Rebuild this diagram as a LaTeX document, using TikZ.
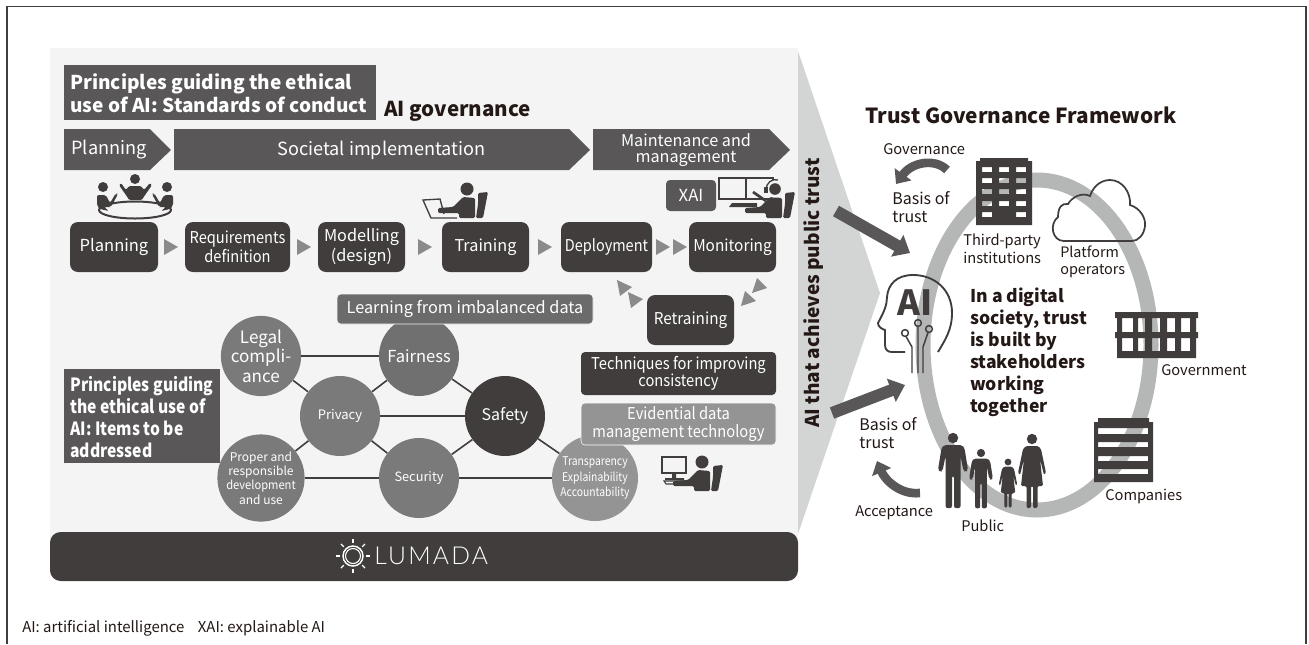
\documentclass[tikz,border=0pt]{standalone}
\usepackage{fontspec}
\setmainfont{Noto Sans CJK JP}
\newfontfamily\lumadafont[LetterSpace=9]{Lato Light}
\usetikzlibrary{arrows.meta}
\definecolor{inkdark}{HTML}{403D3C}
\definecolor{inktext}{HTML}{231815}
\definecolor{panelgray}{HTML}{F4F4F4}
\definecolor{headgray}{HTML}{595757}
\definecolor{ringgray}{HTML}{B5B6B6}
\definecolor{wedgegray}{HTML}{D3D5D4}
\definecolor{trigray}{HTML}{8A8A8A}
\def\u{.75pt}
\newcommand\narrowed[2]{\scalebox{#1}[1]{#2}}
\tikzset{
  stepbox/.style={fill=inkdark,rounded corners=6pt,text=white,inner sep=0pt,align=center,font=\fontsize{12.2}{14.4}\selectfont,minimum height=50*\u},
  tagbox/.style={rounded corners=3pt,text=white,inner sep=0pt,align=center,font=\fontsize{12.2}{13}\selectfont},
  headtext/.style={text=white,inner sep=0pt,align=left,font=\bfseries\fontsize{14.3}{17.2}\selectfont},
  phase/.style={text=white,inner sep=0pt,align=center,font=\fontsize{13.6}{15}\selectfont},
  item/.style={circle,text=white,inner sep=0pt,minimum size=80*\u,align=center,font=\fontsize{12.4}{14.6}\selectfont},
  link/.style={draw=inkdark,line width=1.2pt},
  label/.style={text=inktext,inner sep=0pt,align=left,font=\fontsize{12}{14}\selectfont},
  bigarrow/.style={draw=headgray,line width=9pt,-{Triangle[length=11pt,width=18pt]}},
  bentarrow/.style={draw=headgray,line width=6.5pt,-{Triangle[length=9pt,width=15pt]}},
  seated/.pic={
    \fill[inkdark] (0,0) circle (6.5);
    \fill[inkdark,rounded corners=1pt] (-4,8)--(8,9)--(8,29)--(-8,29)--(-8,24)--(-29,24)--(-29,19)--(-14,18)--cycle;
    \fill[inkdark,rounded corners=1pt] (11,4)--(21,3)--(16,29)--(9,29)--(11,15)--cycle;
  },
  manshape/.pic={
    \fill[inkdark] (0,0) circle (5.2);
    \fill[inkdark,rounded corners=1.5pt] (-9,7)--(9,7)--(11.5,10)--(15,32)--(13,34)--(10.5,33)--(7.5,18)--(7.5,70)--(1,70)--(1,38)--(-1,38)--(-1,70)--(-7.5,70)--(-7.5,18)--(-10.5,33)--(-13,34)--(-15,32)--(-11.5,10)--cycle;
  },
  dressshape/.pic={
    \fill[inkdark] (0,0) circle (5.2);
    \fill[inkdark,rounded corners=1pt] (-6,7)--(6,7)--(9,10)--(14,34)--(12,36)--(8,20)--(11,47)--(5.5,47)--(5.5,69)--(1,69)--(1,47)--(-1,47)--(-1,69)--(-5.5,69)--(-5.5,47)--(-11,47)--(-8,20)--(-12,36)--(-14,34)--(-9,10)--cycle;
  },
}
\begin{document}
\begin{tikzpicture}[x=\u,y=-\u]
\useasboundingbox (0,0) rectangle (1309,644);
% frame, open at the bottom
\draw[inkdark,line width=1pt] (7,644)--(7,6.5)--(1306,6.5)--(1306,644);
\node[label,anchor=west,font=\fontsize{11.2}{13}\selectfont] (note) at (22,628) {AI: artificial intelligence\hspace{.9em}XAI: explainable AI};
% panel and wedge
\fill[wedgegray] (797,48)--(880,293)--(797,537)--cycle;
\fill[panelgray] (50,48) rectangle (798,540);
\fill[inkdark,rounded corners=8pt] (50,532) rectangle (798,581);
% lumada
\node[text=white,anchor=west,inner sep=0pt,font=\lumadafont\fontsize{18.5}{20}\selectfont] (lumada) at (374,556) {LUMADA};
\draw[white,line width=1.1pt] (353,556) circle (10);
\draw[white,line width=.8pt] (353,556) circle (7.5);
\foreach \a in {0,45,...,315}
  \draw[white,line width=1pt] (353,556)++(\a:13) -- ++(\a:4);
% headings
\fill[headgray] (64,65) rectangle (376,120);
\fill[headgray] (64,369) rectangle (220,463);
\node[headtext,anchor=west] (stdhead) at (70,93.5) {Principles guiding the ethical\\use of AI: Standards of conduct};
\node[label,anchor=west,font=\bfseries\fontsize{15.4}{18}\selectfont] (govhead) at (384,111) {AI governance};
\node[headtext,anchor=west,font=\bfseries\fontsize{13.65}{16.6}\selectfont] (itemhead) at (70,417) {\narrowed{.86}{Principles guiding}\\\narrowed{.86}{the ethical use of}\\\narrowed{.86}{AI: Items to be}\\\narrowed{.86}{addressed}};
% phase arrows
\fill[headgray] (64,129)--(150,129)--(171,150)--(150,170)--(64,170)--cycle;
\fill[headgray] (174,129)--(569,129)--(590,150)--(569,170)--(174,170)--cycle;
\fill[headgray] (593,129)--(769,129)--(790,150)--(769,170)--(593,170)--cycle;
\node[phase] (ph1) at (109,150) {Planning};
\node[phase] (ph2) at (381.5,150) {Societal implementation};
\node[phase,font=\fontsize{12.15}{12}\selectfont] (ph3) at (686,150) {Maintenance and\\management};
% process steps
\node[stepbox,minimum width=88*\u,font=\fontsize{12.4}{14}\selectfont] (plan) at (114,247) {Planning};
\node[stepbox,minimum width=105*\u] (req) at (237.5,247) {\narrowed{.9}{Requirements}\\\narrowed{.9}{definition}};
\node[stepbox,minimum width=87*\u] (model) at (361.5,247) {Modelling\\(design)};
\node[stepbox,minimum width=87*\u] (train) at (485.5,247) {Training};
\node[stepbox,minimum width=91*\u] (deploy) at (606.5,247) {\narrowed{.89}{Deployment}};
\node[stepbox,minimum width=87*\u] (monitor) at (732.5,247) {\narrowed{.945}{Monitoring}};
\node[stepbox,minimum width=87*\u] (retrain) at (690.5,320) {\narrowed{.94}{Retraining}};
\node[tagbox,fill=headgray,minimum width=50*\u,minimum height=31*\u,font=\fontsize{12.5}{14}\selectfont] (xai) at (691,195.5) {XAI};
\foreach \x in {164,297,418,538,656,673}
  \fill[trigray] (\x,239)--(\x+14,247)--(\x,255)--cycle;
\fill[trigray] (617,280)--(632,287)--(620,296)--cycle;
\fill[trigray] (628,292)--(643,299)--(631,308)--cycle;
\fill[trigray] (757,278)--(767,288)--(752,293)--cycle;
\fill[trigray] (745,291)--(756,301)--(741,306)--cycle;
% principle circles
\node[item,fill=black!56] (fair) at (419,356) {Fairness};
\node[item,fill=black!52,font=\fontsize{12.8}{14.6}\selectfont] (legal) at (261,356) {Legal\\compli-\\ance};
\node[item,fill=black!52,font=\fontsize{9.8}{12}\selectfont] (privacy) at (340,416) {Privacy};
\node[item,fill=black!52,font=\fontsize{9}{10.8}\selectfont] (proper) at (261,478) {Proper and\\responsible\\\narrowed{.93}{development}\\and use};
\node[item,fill=black!52,font=\fontsize{9.6}{12}\selectfont] (secur) at (419,478) {Security};
\node[item,fill=inkdark,font=\fontsize{12}{14}\selectfont] (safety) at (505,416) {Safety};
\node[item,fill=black!42,minimum size=86*\u,font=\fontsize{9}{11.6}\selectfont] (transp) at (595,478) {\narrowed{.865}{Transparency}\\\narrowed{.865}{Explainability}\\\narrowed{.865}{Accountability}};
\draw[link] (legal)--(fair);
\draw[link] (legal)--(privacy);
\draw[link] (proper)--(privacy);
\draw[link] (proper)--(secur);
\draw[link] (fair)--(privacy);
\draw[link] (privacy)--(safety);
\draw[link] (privacy)--(secur);
\draw[link] (fair)--(safety);
\draw[link] (secur)--(safety);
\draw[link] (secur)--(transp);
\draw[link] (safety)--(transp);
% technique boxes
\node[tagbox,fill=black!58,draw=panelgray,minimum width=256*\u,minimum height=30*\u] (learn) at (465,309) {Learning from imbalanced data};
\node[tagbox,fill=inkdark,minimum width=195*\u,minimum height=43*\u,font=\fontsize{12.2}{12.9}\selectfont] (tech) at (678.5,373.5) {\narrowed{.905}{Techniques for improving}\\\narrowed{.905}{consistency}};
\node[tagbox,fill=black!42,draw=white,minimum width=195*\u,minimum height=42*\u,font=\fontsize{12.2}{13.5}\selectfont] (evid) at (678.5,424) {\narrowed{.905}{Evidential data}\\\narrowed{.905}{management technology}};
% meeting icon
\draw[inkdark,line width=1.5pt] (135,210) ellipse (36 and 8.5);
\fill[inkdark] (103,187) circle (5) (135,179) circle (5) (167,187) circle (5);
\fill[inkdark,rounded corners=1pt] (126,190)--(129,186)--(141,186)--(144,190)--(150,183)--(152,185)--(143,198)--(142,200)--(129,200)--(128,198)--(119,185)--(121,183)--cycle;
\fill[inkdark,rounded corners=1.5pt] (97,195)--(106,195)--(110,203)--(116,193)--(118,194)--(111,207)--(109,207)--(104,207)--(109,211)--(100,209)--(97,206)--cycle;
\fill[inkdark,rounded corners=1.5pt] (173,195)--(164,195)--(160,203)--(154,193)--(152,194)--(159,207)--(161,207)--(166,207)--(161,211)--(170,209)--(173,206)--cycle;
% training icon
\pic at (467,189) {seated};
\draw[inkdark,line width=1pt] (457,218)--(431,218)--(423,200)--(440,199)--(444,214);
% monitoring icon
\pic at (774,189) {seated};
\draw[inkdark,line width=1.4pt] (719,178) rectangle (773,199) (746,178)--(746,199);
\fill[panelgray] (774,189) circle (8.6);
\fill[inkdark] (775,189) circle (5.8);
\draw[inkdark,line width=1pt] (778,180) .. controls (772,178) and (766,183) .. (766,190);
\fill[inkdark] (764,187) rectangle (768,193);
\fill[inkdark] (732,203)--(757,203)--(757,207)--(729,207)--cycle;
\draw[inkdark,line width=2pt] (753,192)--(766,201);
% evidence icon
\pic at (702,462) {seated};
\draw[inkdark,line width=1pt] (662,457) rectangle (686,473);
\fill[inkdark] (672,473) rectangle (676,478) (665,478) rectangle (684,480);
\draw[inkdark,line width=.8pt] (664,481)--(686,481)--(684,484)--(666,484)--cycle;
% side label of the wedge
\node[rotate=90,text=inktext,inner sep=0pt,font=\bfseries\fontsize{14.3}{16}\selectfont] (public) at (814,293) {AI that achieves public trust};
% framework
\node[label,anchor=west,font=\bfseries\fontsize{15.6}{18}\selectfont] (frame) at (865,115) {Trust Governance Framework};
\draw[ringgray,line width=15*\u] (1037,345) ellipse (114 and 165);
\fill[inkdark,even odd rule] (976,225)--(976,161)--(980,161)--(980,158)--(1028,158)--(1028,161)--(1032,161)--(1032,225)--cycle
  \foreach \y in {167,178,189,201} {(982,\y) rectangle ++(10,5) (999,\y) rectangle ++(10,5) (1016,\y) rectangle ++(10,5)}
  (982,212) rectangle ++(10,5) (1016,212) rectangle ++(10,5);
\draw[inkdark,line width=1.3pt] (1064,241) .. controls (1052,241) and (1049,224) .. (1058,217) .. controls (1058,207) and (1062,203) .. (1068,204) .. controls (1072,197) and (1082,192) .. (1090,196) .. controls (1094,184) and (1103,180) .. (1110,180) .. controls (1122,180) and (1131,192) .. (1130,205) .. controls (1140,208) and (1146,218) .. (1145,226) .. controls (1144,235) and (1138,241) .. (1132,241) -- cycle;
\fill[inkdark,even odd rule] (1115,312) rectangle (1198,318) (1117,318) rectangle (1196,332) (1115,332) rectangle (1198,338) (1117,338) rectangle (1196,358)
  \foreach \a/\b in {1122/1133,1138/1145,1152/1160,1167/1175,1181/1190} {(\a,318) rectangle (\b,332) (\a,338) rectangle (\b,351)};
\fill[inkdark,even odd rule] (1098,418) rectangle (1149,422) (1094,422) rectangle (1153,482)
  (1098,428) rectangle (1148,434) (1098,442) rectangle (1148,447) (1098,456) rectangle (1148,461) (1098,469) rectangle (1148,474);
\pic at (953,438) {manshape};
\pic[scale=.79] at (981,453) {manshape};
\pic[scale=.66] at (1008,462) {dressshape};
\pic at (1032,439) {dressshape};
% AI head
\draw[inkdark,line width=1.4pt] (938,352) .. controls (945,340) and (952,330) .. (952,313) .. controls (952,290) and (935,275) .. (913,275) .. controls (897,275) and (888,284) .. (887,297) .. controls (887,305) and (884,312) .. (878,323) .. controls (878,327) and (882,329) .. (885,330) -- (885,345) .. controls (885,350) and (888,352) .. (892,352) -- (905,352);
\node[inner sep=0pt,text=inkdark,font=\bfseries\fontsize{26}{26}\selectfont] (aitext) at (915,303) {AI};
\draw[inkdark,line width=1.1pt] (918,323) circle (3.4) (905,333) circle (3.4) (929,329) circle (3.4);
\draw[inkdark,line width=1.1pt] (918,326.5)--(918,373) (906,336.5)--(912,347)--(912,373) (928,332.5)--(923,347)--(923,373);
% arrows
\coordinate (upstart) at (836,211);
\coordinate (uptip) at (910,253);
\coordinate (lowstart) at (832,413);
\coordinate (lowtip) at (905,385);
\draw[bigarrow] (upstart)--(uptip);
\draw[bigarrow] (lowstart)--(lowtip);
\coordinate (govstart) at (947,170);
\coordinate (govtip) at (896,184);
\coordinate (accstart) at (920,493);
\coordinate (acctip) at (877,461);
\draw[bentarrow] (govstart) .. controls (935,158) and (912,162) .. (govtip);
\draw[bentarrow] (accstart) .. controls (900,495) and (885,480) .. (acctip);
% labels
\node[label,anchor=west,font=\fontsize{11}{13}\selectfont] (lgov) at (883,149) {Governance};
\node[label,anchor=west] (lbasis1) at (892,207) {Basis of\\trust};
\node[label,anchor=west,font=\fontsize{11}{13.4}\selectfont] (lthird) at (963,249) {Third-party\\institutions};
\node[label,anchor=west,font=\fontsize{10.8}{13}\selectfont] (lplat) at (1060,262) {Platform\\operators};
\node[label,anchor=west,font=\fontsize{11}{13}\selectfont] (lgovt) at (1161,370) {Government};
\node[label,anchor=west,font=\fontsize{11}{13}\selectfont] (lcomp) at (1105,496) {Companies};
\node[label,anchor=west,font=\fontsize{11}{13}\selectfont] (lpub) at (961,526) {Public};
\node[label,anchor=west,font=\fontsize{11}{13}\selectfont] (lacc) at (855,513) {Acceptance};
\node[label,anchor=west] (lbasis2) at (859,433) {Basis of\\trust};
\node[label,anchor=north west,font=\bfseries\fontsize{13.2}{16.4}\selectfont] (digital) at (970,288) {In a digital\\society, trust\\is built by\\stakeholders\\working\\together};
\end{tikzpicture}
\end{document}
